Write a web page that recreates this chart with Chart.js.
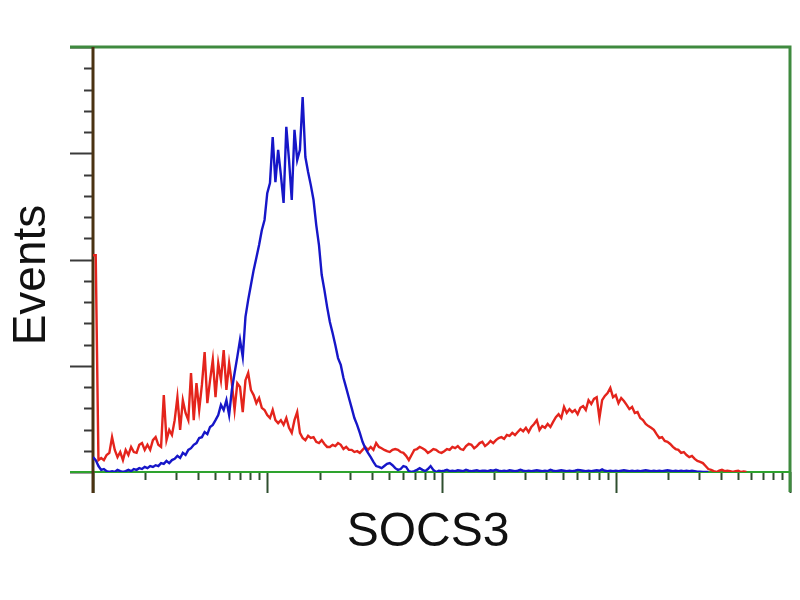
<!DOCTYPE html>
<html>
<head>
<meta charset="utf-8">
<script src="https://cdn.jsdelivr.net/npm/chart.js@4"></script>
<style>
  html, body { margin: 0; padding: 0; background: #fff; }
  canvas { display: block; }
</style>
</head>
<body>
<canvas id="chart" width="800" height="600"></canvas>
<script>
// flow histogram, 256 channels over 4 log decades
const channelsPerDecade = 64;
const totalChannels = 256;

// red: stained sample (counts per channel, % of axis max)
const redCounts = [
  51, 51, 2.8, 3.3, 2.8, 4, 4.5, 8.2, 5.2, 3.5, 4.7, 2.8, 5.2, 4, 5.9, 4.7,
  4.5, 6.4, 6.8, 5.2, 6.4, 5.2, 7.5, 8.2, 6.4, 5.9, 18.1, 7.5, 9.9, 8.7, 12.2, 17.6,
  9.9, 16.9, 13.9, 12.2, 23.3, 12.2, 20.9, 14.6, 20.5, 28.2, 16.2, 21.6, 26.4, 17.6, 25.6, 21.6,
  28.7, 19.3, 25.6, 20.9, 14.6, 20.9, 20, 14.1, 21.6, 23.3, 19.3, 18.1, 16.2, 17.4, 15.1, 14.6,
  13.4, 12.7, 14.6, 12.2, 11.5, 12.2, 11.1, 12.7, 10.4, 9.2, 12.2, 14.1, 9.2, 8, 7.5, 8.5,
  8, 8.2, 7.1, 6.8, 7.5, 6.6, 5.9, 5.9, 6.4, 6.1, 6.8, 6.4, 5.4, 5.9, 5.2, 5.2,
  4.7, 4.9, 4.5, 5.2, 5.9, 5.2, 5.9, 5.2, 6.8, 5.9, 5.6, 5.2, 4.9, 4.7, 5.2, 5.4,
  5.2, 4.7, 4.5, 3.8, 2.8, 4, 5.2, 5.4, 5.9, 5.6, 5.2, 4.5, 4.9, 5.4, 5.2, 4.7,
  4.5, 4.9, 5.4, 5.2, 5.9, 5.6, 6.1, 5.4, 5.2, 6.1, 6.6, 6.4, 5.6, 6.1, 6.8, 7.1,
  6.1, 6.6, 7.3, 6.8, 7.5, 8, 8.2, 7.8, 8.7, 8.5, 9.2, 8.7, 9.4, 10.1, 9.6, 10.4,
  9.4, 10.6, 11.3, 12.2, 9.9, 10.8, 10.4, 11.3, 10.6, 11.8, 12.9, 13.6, 12.7, 15.3, 13.9, 14.8,
  14.1, 14.6, 13.6, 15.1, 15.5, 14.6, 16.9, 16, 17.2, 17.6, 12.7, 16.9, 17.9, 18.6, 19.8, 17.6,
  18.1, 16.2, 17.4, 16.7, 15.8, 14.8, 15.3, 13.9, 14.1, 12.7, 12.2, 11.3, 10.8, 10.4, 9.9, 8.9,
  8, 8.2, 7.3, 7.1, 6.6, 5.9, 5.4, 5.2, 4.5, 4.7, 4, 3.5, 3.8, 3.1, 2.6, 2.4,
  2.1, 1.4, 0.7, 0.5, 0.2, 0, 0.3, 0.5, 0.2, 0.3, 0.2, 0, 0.2, 0.3, 0, 0.1, 0
];

// blue: isotype control
const blueCounts = [
  3.5, 2.8, 1.4, 0.5, 0.7, 0.2, 0, 0.2, 0, 0.5, 0.2, 0, 0.2, 0.5, 0.2, 0.7,
  0.5, 0.9, 0.7, 1.2, 0.9, 1.4, 1.2, 1.6, 1.4, 2.1, 1.9, 2.6, 2.1, 2.8, 3.1, 3.8,
  3.3, 4.5, 4, 5.2, 5.6, 6.4, 6.8, 8, 8.2, 9.4, 8.9, 10.6, 11.1, 12.2, 13.4, 15.8,
  14.6, 16.9, 13.4, 19.3, 23.3, 27.1, 31.1, 27.1, 36.5, 40.5, 44, 47.5, 50.4, 53.4, 56.9, 59.3,
  65.6, 68, 78.8, 68.2, 75.8, 69.9, 63.3, 81.2, 73.4, 64, 80.5, 73.4, 75.8, 88.2, 74.1, 70.6,
  67.5, 64, 58.1, 53.4, 46.4, 42.8, 38.8, 35.3, 32.7, 29.9, 26.8, 25.2, 22.1, 19.8, 17.4, 15.1,
  12.7, 11.1, 9.2, 7.1, 5.6, 4.5, 3.5, 2.4, 1.4, 1.2, 0.9, 1.4, 1.9, 2.1, 1.6, 0.9,
  0.5, 0.7, 1.4, 1.2, 0.2, 0, 0.2, 0.5, 0.9, 0.5, 0.2, 0.7, 1.4, 0.5, 0, 0.3,
  0.2, 0.3, 0.5, 0.2, 0.3, 0.2, 0.4, 0.3, 0.2, 0.5, 0.3, 0.2, 0.3, 0.4, 0.2, 0.3,
  0.3, 0.2, 0.4, 0.3, 0.5, 0.3, 0.2, 0.3, 0.2, 0.4, 0.3, 0.2, 0.3, 0.5, 0.3, 0.2,
  0.3, 0.2, 0.3, 0.4, 0.3, 0.2, 0.3, 0.2, 0.5, 0.3, 0.2, 0.3, 0.4, 0.3, 0.2, 0.3,
  0.2, 0.3, 0.5, 0.4, 0.3, 0.2, 0.3, 0.2, 0.3, 0.4, 0.3, 0.6, 0.3, 0.2, 0.3, 0.2,
  0.3, 0.2, 0.3, 0.4, 0.3, 0.2, 0.3, 0.2, 0.3, 0.2, 0.3, 0.4, 0.3, 0.2, 0.3, 0.2,
  0.3, 0.2, 0.3, 0.4, 0.3, 0.2, 0.3, 0.2, 0.3, 0.2, 0.3, 0.2, 0.3, 0.2, 0.1, 0.1,
  0, 0, 0
];

const yMax = 100;
const yMajorTicks = [0, 25, 50, 75, 100];
const yMinorStep = 5;
const xDecades = [1, 10, 100, 1000, 10000];

const xTitle = 'SOCS3';
const yTitle = 'Events';

function toPoints(counts) {
  return counts.map((v, i) => ({ x: i, y: v }));
}

function channelOf(value) {
  return channelsPerDecade * Math.log10(value);
}

// axis frame + tick marks, drawn before the histograms
const framePlugin = {
  id: 'frame',
  beforeDatasetsDraw(chart) {
    const { ctx, chartArea: a, scales } = chart;
    const xs = scales.x, ys = scales.y;
    ctx.save();
    ctx.lineCap = 'butt';

    // y ticks
    ctx.strokeStyle = '#3a3a3a';
    ctx.lineWidth = 2;
    for (let v = 0; v <= yMax; v += yMinorStep) {
      const y = Math.round(ys.getPixelForValue(v)) + 0.5;
      const len = yMajorTicks.includes(v) ? 23 : 9;
      ctx.beginPath();
      ctx.moveTo(a.left - len, y);
      ctx.lineTo(a.left, y);
      ctx.stroke();
    }

    // x ticks (log)
    ctx.strokeStyle = '#2f4f2f';
    xDecades.forEach((d, i) => {
      const mults = i < xDecades.length - 1 ? [1, 2, 3, 4, 5, 6, 7, 8, 9] : [1];
      mults.forEach(m => {
        const x = Math.round(xs.getPixelForValue(channelOf(d * m))) + 0.5;
        const len = m === 1 ? 21 : 8;
        ctx.beginPath();
        ctx.moveTo(x, a.bottom);
        ctx.lineTo(x, a.bottom + len);
        ctx.stroke();
      });
    });

    // top + right border
    ctx.strokeStyle = '#3f8a3f';
    ctx.lineWidth = 3;
    ctx.beginPath();
    ctx.moveTo(a.left - 23, a.top);
    ctx.lineTo(a.right, a.top);
    ctx.lineTo(a.right, a.bottom + 20);
    ctx.stroke();

    // bottom axis
    ctx.strokeStyle = '#2ea32e';
    ctx.lineWidth = 2;
    ctx.beginPath();
    ctx.moveTo(a.left - 23, a.bottom);
    ctx.lineTo(a.right, a.bottom);
    ctx.stroke();

    // left axis
    ctx.strokeStyle = '#4a3212';
    ctx.lineWidth = 3;
    ctx.beginPath();
    ctx.moveTo(a.left, a.top);
    ctx.lineTo(a.left, a.bottom + 21);
    ctx.stroke();

    // axis titles
    ctx.fillStyle = '#111';
    ctx.textAlign = 'center';
    ctx.textBaseline = 'alphabetic';
    ctx.font = '48px "Liberation Sans", Arial, sans-serif';
    ctx.fillText(xTitle, 428, 546);
    ctx.font = '46px "Liberation Sans", Arial, sans-serif';
    ctx.translate(45, 275);
    ctx.rotate(-Math.PI / 2);
    ctx.fillText(yTitle, 0, 0);
    ctx.restore();
  }
};

const chartConfig = {
  type: 'line',
  data: {
    datasets: [
      {
        label: 'Control',
        data: toPoints(blueCounts),
        borderColor: '#1616c8',
        borderWidth: 2.4,
        pointRadius: 0,
        tension: 0,
      },
      {
        label: 'SOCS3',
        data: toPoints(redCounts),
        borderColor: '#e4241c',
        borderWidth: 2.4,
        pointRadius: 0,
        tension: 0,
      },
    ],
  },
  options: {
    responsive: false,
    animation: false,
    layout: { padding: { top: 47, right: 10, left: 0, bottom: 0 } },
    plugins: { legend: { display: false }, tooltip: { enabled: false } },
    scales: {
      x: {
        type: 'linear',
        min: 0,
        max: totalChannels,
        grid: { display: false },
        border: { display: false },
        ticks: { display: false },
        afterFit(scale) { scale.height = 128; },
      },
      y: {
        min: 0,
        max: yMax,
        grid: { display: false },
        border: { display: false },
        ticks: { display: false },
        afterFit(scale) { scale.width = 93; },
      },
    },
  },
  plugins: [framePlugin],
};

new Chart(document.getElementById('chart').getContext('2d'), chartConfig);
</script>
</body>
</html>
